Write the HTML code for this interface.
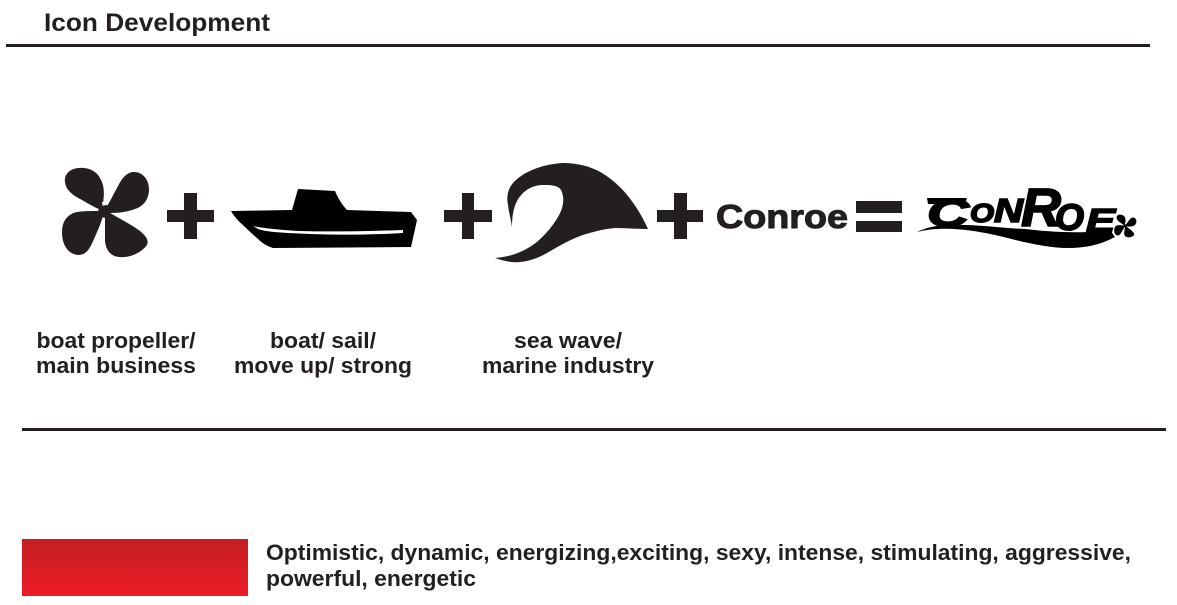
<!DOCTYPE html>
<html>
<head>
<meta charset="utf-8">
<style>
html,body{margin:0;padding:0;background:#fff;width:1177px;height:605px;overflow:hidden}
svg{display:block}
text{font-family:"Liberation Sans",sans-serif;font-weight:bold;fill:#231f20}
.l{font-style:italic;fill:#000;stroke:#000;stroke-width:1.6px}
</style>
</head>
<body>
<svg width="1177" height="605" viewBox="0 0 1177 605" xmlns="http://www.w3.org/2000/svg">
<defs>
<linearGradient id="red" x1="0" y1="0" x2="0" y2="1">
<stop offset="0" stop-color="#c31e24"/>
<stop offset="1" stop-color="#ee1c25"/>
</linearGradient>
<g id="prop">
<path d="M103 204C104 196 105 188 101 180C97 170 87 167 78 168C69 169 64 175 65 182C66 190 72 195 82 200C89 204 94 207 99 209Z"/>
<path d="M107 206C111 200 114 193 118 186C122 178 127 172 134 172C143 172 149 180 149 189C149 199 144 206 135 209C127 212 119 213 110 213Z"/>
<path d="M99 211C91 211 84 211 77 212C67 214 62 222 62 232C62 245 68 254 78 255C87 255 90 248 94 239C97 232 100 226 103 216Z"/>
<path d="M105 216C105 226 105 234 105 241C106 250 110 256 119 257C130 258 141 253 147 245C149 240 146 236 140 231C132 225 122 220 110 213Z"/>
<path d="M99 206L107 205L111 214L104 218L98 213Z"/>
</g>
</defs>

<text x="44" y="31" font-size="25" textLength="226" lengthAdjust="spacingAndGlyphs">Icon Development</text>
<rect x="6" y="44" width="1144" height="3" fill="#231f20"/>

<use href="#prop" fill="#231f20"/>
<circle cx="103" cy="203" r="1.200" fill="#fff"/>

<path fill="#231f20" d="M167 210H184V193H197V210H214V222H197V239H184V222H167Z"/>

<path fill="#000" fill-rule="evenodd" d="M231 211L292 210L298 189L335 191C338 198 342 205 347 210L411 212L417 220L411 247L273 248C266 246 261 242 257 238C251 233 247 229 243 225C238 221 234 216 231 211ZM253 226C262 228 280 230 300 231C335 232 370 231 403 230L403 233C370 235 340 235 310 234C285 233 265 232 258 229Z"/>

<path fill="#231f20" d="M444 210H462V193H474V210H492V222H474V239H462V222H444Z"/>

<path fill="#231f20" d="M648 229C637 205 622 185 602 173C590 166 577 163 563 163C545 164 527 170 516 180C508 187 506 196 508 205C509 213 511 220 512 227C512 218 513 209 517 201C522 192 530 186 541 185C550 185 558 185 561 190C564 196 564 203 561 211C556 222 548 232 538 241C526 251 511 257 495 258C504 261 512 263 520 262C530 261 538 258 547 253C559 246 571 239 583 235C593 232 603 229 615 228C626 228 637 229 648 229Z"/>

<path fill="#231f20" d="M657 210H674V193H687V210H703V222H687V239H674V222H657Z"/>

<text x="716" y="228" font-size="33" textLength="132" lengthAdjust="spacingAndGlyphs" stroke="#231f20" stroke-width="1">Conroe</text>

<rect x="856" y="201" width="46" height="12" fill="#231f20"/>
<rect x="856" y="221" width="46" height="11" fill="#231f20"/>

<!-- wordmark -->
<g fill="#000">
<text class="l" x="927" y="226" font-size="38" textLength="42" lengthAdjust="spacingAndGlyphs">C</text>
<path d="M927 198H967L965 204H928Z"/>
<text class="l" x="970" y="222" font-size="26" textLength="24" lengthAdjust="spacingAndGlyphs">O</text>
<text class="l" x="994" y="222" font-size="33" textLength="29" lengthAdjust="spacingAndGlyphs">N</text>
<text class="l" x="1021" y="226" font-size="54" textLength="40" lengthAdjust="spacingAndGlyphs">R</text>
<text class="l" x="1055" y="230" font-size="37" textLength="29" lengthAdjust="spacingAndGlyphs">O</text>
<text class="l" x="1086" y="232" font-size="33" textLength="29" lengthAdjust="spacingAndGlyphs">E</text>
<path d="M917 232C925 228 936 225 950 225C975 224 1000 228 1025 229C1050 232 1085 234 1110 230L1115 237C1100 245 1085 248 1068 248C1045 248 1020 241 995 235C968 229 940 226 917 232Z"/>
<g transform="translate(1125 226) scale(0.24) rotate(8) translate(-104.500 -212)"><use href="#prop"/></g>
</g>

<g font-size="22" text-anchor="middle">
<text x="116" y="348" textLength="159" lengthAdjust="spacingAndGlyphs">boat propeller/</text>
<text x="116" y="373" textLength="160" lengthAdjust="spacingAndGlyphs">main business</text>
<text x="323" y="348" textLength="106" lengthAdjust="spacingAndGlyphs">boat/ sail/</text>
<text x="323" y="373" textLength="178" lengthAdjust="spacingAndGlyphs">move up/ strong</text>
<text x="568" y="348" textLength="108" lengthAdjust="spacingAndGlyphs">sea wave/</text>
<text x="568" y="373" textLength="172" lengthAdjust="spacingAndGlyphs">marine industry</text>
</g>

<rect x="22" y="428" width="1144" height="3" fill="#231f20"/>

<rect x="22" y="539" width="226" height="57" fill="url(#red)"/>

<text x="266" y="560" font-size="22" textLength="865" lengthAdjust="spacingAndGlyphs">Optimistic, dynamic, energizing,exciting, sexy, intense, stimulating, aggressive,</text>
<text x="266" y="586" font-size="22" textLength="210" lengthAdjust="spacingAndGlyphs">powerful, energetic</text>
</svg>
</body>
</html>
